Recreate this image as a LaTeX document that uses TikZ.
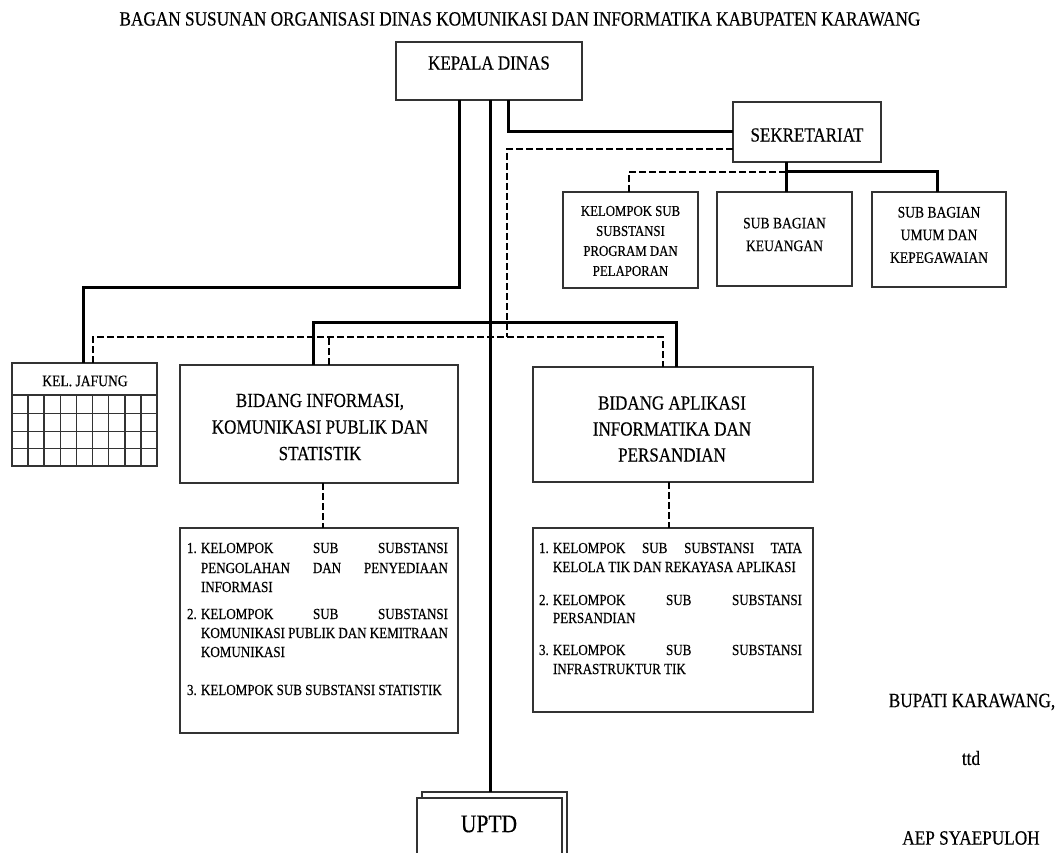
\documentclass[tikz,border=0pt]{standalone}
\usepackage{fontspec}
\setmainfont[FakeStretch=0.85,FakeBold=0.35]{Liberation Serif}
\usetikzlibrary{calc}
\newcommand\fsz[2]{\fontsize{#1}{#2}\selectfont}
\begin{document}
\begin{tikzpicture}[x=0.75pt,y=-0.75pt,
  box/.style 2 args={draw=black!80,line width=1.1pt,fill=white,inner sep=0pt,outer sep=0pt,minimum width=#1*0.75pt,minimum height=#2*0.75pt},
  conn/.style={line width=2.25pt,black},
  dconn/.style={line width=1.5pt,black,dash pattern=on 5pt off 2.5pt},
  grid/.style={draw=black!80,line width=1.1pt},
  txt/.style={inner sep=0pt,outer sep=0pt,align=center,text=black},
  item/.style={inner sep=0pt,outer sep=0pt,anchor=base west,font=\fsz{11.5}{14},text=black}
]
\useasboundingbox (0,0) rectangle (1062,852);
\clip (0,0) rectangle (1062,852);
\fill[white] (0,0) rectangle (1062,852);

% boxes
\node[box={186}{58}] (kd) at (489,71) {};
\node[box={148}{60}] (sek) at (807,132) {};
\node[box={135}{96}] (sb1) at (630.5,240) {};
\node[box={135}{94}] (sb2) at (784.5,239) {};
\node[box={134}{95}] (sb3) at (939,239.5) {};
\node[box={145}{103}] (jf) at (84.5,414.5) {};
\node[box={278}{118}] (bi) at (319,424) {};
\node[box={280}{115}] (ba) at (673,424.5) {};
\node[box={278}{205}] (l1) at (319,630.5) {};
\node[box={280}{184}] (l2) at (673,620) {};
\node[box={145}{78}] (ub) at (494.5,831) {};
\node[box={145}{78}] (uf) at (489.5,837) {};

% jafung grid
\draw[grid] (12,395) -- (157,395);
\foreach \yy in {413.3,431.7,448.3} \draw[grid] (12,\yy) -- (157,\yy);
\foreach \i in {1,...,8} \draw[grid] ({12+\i*16.11},395) -- ({12+\i*16.11},466);

% connectors
\draw[conn] ($(kd.south)+(-30,0)$) -- ++(0,187) -| ($(jf.north)+(-1.5,0)$);
\draw[conn] ($(kd.south)+(1,0)$) -- ($(ub.north)+(-4.5,0)$);
\draw[conn] ($(kd.south)+(19,0)$) |- (sek.west);
\draw[dconn] ($(sek.west)+(0,17)$) -| ($(kd.south)+(18,237)$);
\coordinate (dl) at (93,337);
\coordinate (dr) at (663,337);
\draw[dconn] ($(jf.north)+(8.5,0)$) -- (dl) -- (dr) -- ($(ba.north)+(-10,0)$);
\draw[dconn] ($(bi.north)+(10,0)$) -- ($(bi.north)+(10,-28)$);
\draw[conn] ($(bi.north)+(-6,0)$) -- ++(0,-43) -| ($(ba.north)+(3,0)$);
\draw[conn] ($(sek.south)+(-21,0)$) -- ($(sb2.north)+(1.5,0)$);
\draw[conn] ($(sek.south)+(-21,10)$) -| ($(sb3.north)+(-2,0)$);
\draw[dconn] ($(sek.south)+(-21,10)$) -| ($(sb1.north)+(-1.5,0)$);
\draw[dconn] ($(bi.south)+(4,0)$) -- ($(l1.north)+(4,0)$);
\draw[dconn] ($(ba.south)+(-4,0)$) -- ($(l2.north)+(-4,0)$);

% texts
\node[txt,font=\fsz{15.2}{18}] (title) at (520,19) {BAGAN SUSUNAN ORGANISASI DINAS KOMUNIKASI DAN INFORMATIKA KABUPATEN KARAWANG};
\node[txt,font=\fsz{15}{18}] (kdt) at (489,63) {KEPALA DINAS};
\node[txt,font=\fsz{15}{18}] (sekt) at (807,135) {SEKRETARIAT};
\node[txt,font=\fsz{11.3}{15}] (sb1t) at (630.5,241) {KELOMPOK SUB\\SUBSTANSI\\PROGRAM DAN\\PELAPORAN};
\node[txt,font=\fsz{12}{17}] (sb2t) at (784.5,234.5) {SUB BAGIAN\\KEUANGAN};
\node[txt,font=\fsz{12}{17}] (sb3t) at (939,235) {SUB BAGIAN\\UMUM DAN\\KEPEGAWAIAN};
\node[txt,font=\fsz{12}{14}] (jft) at (85,381) {KEL. JAFUNG};
\node[txt,font=\fsz{15}{19.9}] (bit) at (320,427) {BIDANG INFORMASI,\\KOMUNIKASI PUBLIK DAN\\STATISTIK};
\node[txt,font=\fsz{15}{19.5}] (bat) at (672,429) {BIDANG APLIKASI\\INFORMATIKA DAN\\PERSANDIAN};
\node[txt,font=\fsz{19}{22}] (upt) at (489,824) {UPTD};
\node[txt,font=\fsz{15.2}{18}] (bup) at (972,702) {BUPATI KARAWANG,};
\node[txt,font=\fsz{15.2}{18}] (ttd) at (971,758) {ttd};
\node[txt,font=\fsz{15.2}{18}] (aep) at (971,838) {AEP SYAEPULOH};

% list 1
\node[item] (n11) at (187,553) {1.};
\node[item] (i11a) at (201,553) {\makebox[185.25pt][s]{KELOMPOK SUB SUBSTANSI}};
\node[item] (i11b) at (201,573) {\makebox[185.25pt][s]{PENGOLAHAN DAN PENYEDIAAN}};
\node[item] (i11c) at (201,592) {INFORMASI};
\node[item] (n12) at (187,619) {2.};
\node[item] (i12a) at (201,619) {\makebox[185.25pt][s]{KELOMPOK SUB SUBSTANSI}};
\node[item] (i12b) at (201,638) {\makebox[185.25pt][s]{KOMUNIKASI PUBLIK DAN KEMITRAAN}};
\node[item] (i12c) at (201,657) {KOMUNIKASI};
\node[item] (n13) at (187,695) {3.};
\node[item] (i13a) at (201,695) {KELOMPOK SUB SUBSTANSI STATISTIK};

% list 2
\node[item] (n21) at (539,553) {1.};
\node[item] (i21a) at (553,553) {\makebox[186.75pt][s]{KELOMPOK SUB SUBSTANSI TATA}};
\node[item] (i21b) at (553,572) {KELOLA TIK DAN REKAYASA APLIKASI};
\node[item] (n22) at (539,605) {2.};
\node[item] (i22a) at (553,605) {\makebox[186.75pt][s]{KELOMPOK SUB SUBSTANSI}};
\node[item] (i22b) at (553,623) {PERSANDIAN};
\node[item] (n23) at (539,655) {3.};
\node[item] (i23a) at (553,655) {\makebox[186.75pt][s]{KELOMPOK SUB SUBSTANSI}};
\node[item] (i23b) at (553,674) {INFRASTRUKTUR TIK};
\end{tikzpicture}
\end{document}
